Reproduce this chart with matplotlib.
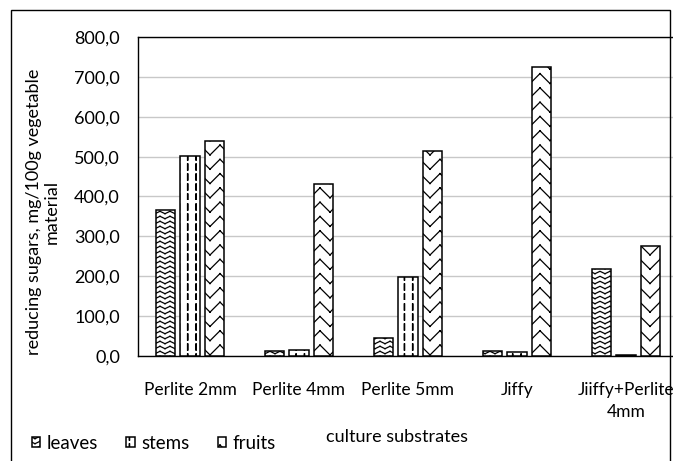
import numpy as np
import matplotlib
matplotlib.use('Agg')
import matplotlib.pyplot as plt
from matplotlib import hatch as mhatch
from matplotlib.path import Path
from matplotlib.patches import Rectangle

# ============================================================
# Data
# ============================================================
categories = ['Perlite 2mm', 'Perlite 4mm', 'Perlite 5mm', 'Jiffy', 'Jiiffy+Perlite\n4mm']
leaves = [367.0, 13.0, 44.0, 13.0, 219.0]
stems = [502.0, 15.0, 198.0, 10.0, 3.0]
fruits = [540.0, 432.0, 515.0, 725.0, 277.0]
series_names = ['leaves', 'stems', 'fruits']
y_ticks = [0, 100, 200, 300, 400, 500, 600, 700, 800]


# ============================================================
# Custom hatch patterns (zigzag rows and dashed verticals)
# Agg fills hatch paths too, so every stroke is its own segment.
# ============================================================
class ZigzagRows(mhatch.HatchPatternBase):
    """Rows of zigzag lines across the hatch tile."""
    char = 'o'
    rows = 20
    periods = 10
    amp = 0.012

    def __init__(self, hatch, density):
        self.on = self.char in hatch
        self.num_vertices = self.rows * 2 * self.periods * 2 if self.on else 0

    def set_vertices_and_codes(self, vertices, codes):
        n = 2 * self.periods + 1
        xs = np.linspace(0, 1, n)
        sign = np.where(np.arange(n) % 2 == 0, 1.0, -1.0)
        k = 0
        for i in range(self.rows):
            y0 = (i + 0.5) / self.rows
            ys = y0 + self.amp * sign
            for j in range(n - 1):
                vertices[k] = (xs[j], ys[j])
                vertices[k+1] = (xs[j+1], ys[j+1])
                codes[k] = Path.MOVETO
                codes[k+1] = Path.LINETO
                k += 2


class BigZigzag(ZigzagRows):
    char = 'O'
    rows = 7
    periods = 5
    amp = 0.05


class DashedVertical(mhatch.HatchPatternBase):
    """Dashed vertical lines."""
    char = '.'
    cols = 12
    dashes = 10
    frac = 0.6

    def __init__(self, hatch, density):
        self.on = self.char in hatch
        self.num_vertices = self.cols * self.dashes * 2 * 2 if self.on else 0

    def set_vertices_and_codes(self, vertices, codes):
        k = 0
        for i in range(self.cols):
            x = (i + 0.5) / self.cols
            for dx in (0.0, 0.005):
                for j in range(self.dashes):
                    y0 = j / self.dashes
                    vertices[k] = (x + dx, y0)
                    vertices[k+1] = (x + dx, y0 + self.frac / self.dashes)
                    codes[k] = Path.MOVETO
                    codes[k+1] = Path.LINETO
                    k += 2


mhatch._hatch_types[:] = [mhatch.HorizontalHatch, mhatch.VerticalHatch,
                          mhatch.NorthEastHatch, mhatch.SouthEastHatch,
                          ZigzagRows, BigZigzag, DashedVertical]

# ============================================================
# Figure
# ============================================================
plt.rcParams['font.family'] = ['Lato', 'DejaVu Sans']
plt.rcParams['hatch.linewidth'] = 0.9
FS = 13

W, H = 673, 461
fig = plt.figure(figsize=(W / 100, H / 100), dpi=100)

# outer chart border
fig.patches.append(Rectangle((11 / W, -0.05), 659 / W, 1.05 - 10 / H,
                             transform=fig.transFigure, fill=False,
                             edgecolor='black', linewidth=1.0))

left, right, top, bottom = 138, 680.5, 37, 356
ax = fig.add_axes([left / W, 1 - bottom / H, (right - left) / W, (bottom - top) / H])

x = np.arange(len(categories))
width = 0.18
offset = 0.225
hatches = ['o', '.', 'O']
for i, (vals, name, h) in enumerate(zip([leaves, stems, fruits], series_names, hatches)):
    ax.bar(x + (i - 1) * offset, vals, width, label=name, color='white',
           edgecolor='black', linewidth=1.1, hatch=h, zorder=3)

ax.set_xlim(-0.477, 4.5)
ax.set_ylim(0, 800)
ax.set_yticks(y_ticks)
ax.set_yticklabels([f'{v:.1f}'.replace('.', ',') for v in y_ticks])
ax.set_xticks(x)
ax.set_xticklabels(categories, linespacing=1.45)
ax.tick_params(axis='x', length=0, pad=19, labelsize=12.5)
ax.tick_params(axis='y', length=0, pad=13, labelsize=FS)
ax.yaxis.grid(True, color='#c8c8c8', linewidth=1.0, zorder=0)
ax.set_axisbelow(True)
for s in ['left', 'bottom', 'top']:
    ax.spines[s].set_color('black')
    ax.spines[s].set_linewidth(1.0)
ax.spines['right'].set_visible(False)

fig.text(43 / W, 1 - 212 / H, 'reducing sugars, mg/100g vegetable\nmaterial',
         rotation=90, ha='center', va='center', fontsize=FS, linespacing=1.15)
fig.text(397 / W, 1 - 437 / H, 'culture substrates', ha='center', va='center', fontsize=FS)

fig.legend(loc='center left', bbox_to_anchor=(15 / W, 1 - 443 / H), ncol=3, frameon=False,
           fontsize=13.5, handlelength=0.45, handleheight=0.45, handletextpad=0.35,
           columnspacing=1.5)

plt.savefig('out.png', dpi=100)
